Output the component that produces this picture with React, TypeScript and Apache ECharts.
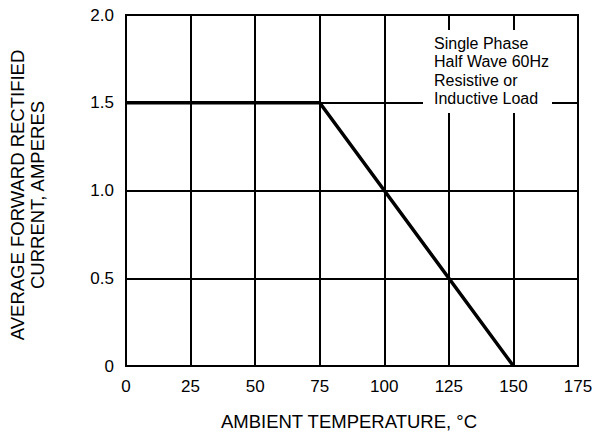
import React, { useEffect, useRef } from "react";
import * as echarts from "echarts";

const xTicks = [0, 25, 50, 75, 100, 125, 150, 175];
const yTicks = [0, 0.5, 1.0, 1.5, 2.0];
const deratingCurve: [number, number][] = [
  [0, 1.5],
  [75, 1.5],
  [150, 0],
];
const noteLines = ["Single Phase", "Half Wave 60Hz", "Resistive or", "Inductive Load"];
const xTitle = "AMBIENT TEMPERATURE, \u00B0C";
const yTitleLines = ["AVERAGE FORWARD RECTIFIED", "CURRENT, AMPERES"];

const FONT = "Liberation Sans, Arial, Helvetica, sans-serif";

export default function App() {
  const ref = useRef<HTMLDivElement>(null);
  useEffect(() => {
    document.body.style.margin = "0";
    if (!ref.current) return;
    const chart = echarts.init(ref.current, undefined, { renderer: "svg" });
    chart.setOption({
      animation: false,
      backgroundColor: "#ffffff",
      grid: {
        left: 126,
        right: 18,
        top: 15,
        bottom: 69,
        show: true,
        borderColor: "#000",
        borderWidth: 2,
        backgroundColor: "transparent",
      },
      xAxis: {
        type: "value",
        min: xTicks[0],
        max: xTicks[xTicks.length - 1],
        interval: 25,
        axisLine: { show: false },
        axisTick: { show: false },
        axisLabel: { color: "#000", fontSize: 17, fontFamily: FONT, margin: 12 },
        splitLine: { show: true, lineStyle: { color: "#000", width: 2 } },
      },
      yAxis: {
        type: "value",
        min: yTicks[0],
        max: yTicks[yTicks.length - 1],
        interval: 0.5,
        axisLine: { show: false },
        axisTick: { show: false },
        axisLabel: {
          color: "#000",
          fontSize: 17,
          fontFamily: FONT,
          margin: 12,
          formatter: (v: number) => (v === 0 ? "0" : v.toFixed(1)),
        },
        splitLine: { show: true, lineStyle: { color: "#000", width: 2 } },
      },
      series: [
        {
          type: "line",
          data: deratingCurve,
          showSymbol: false,
          lineStyle: { color: "#000", width: 3.5 },
          z: 5,
        },
      ],
      graphic: [
        {
          type: "rect",
          shape: { x: 423, y: 30, width: 129, height: 83 },
          style: { fill: "#fff" },
          z: 100,
        },
        {
          type: "text",
          x: 434,
          y: 34,
          z: 101,
          style: {
            text: noteLines.join("\n"),
            fill: "#000",
            font: `16px ${FONT}`,
            lineHeight: 18.5,
            align: "left",
            verticalAlign: "top",
          },
        },
        {
          type: "text",
          x: 349,
          y: 421,
          z: 101,
          style: {
            text: xTitle,
            fill: "#000",
            font: `18.5px ${FONT}`,
            align: "center",
            verticalAlign: "middle",
          },
        },
        {
          type: "text",
          x: 27,
          y: 195,
          rotation: Math.PI / 2,
          z: 101,
          style: {
            text: yTitleLines.join("\n"),
            fill: "#000",
            font: `18.5px ${FONT}`,
            lineHeight: 20,
            align: "center",
            verticalAlign: "middle",
          },
        },
      ],
    });
    return () => chart.dispose();
  }, []);
  return <div ref={ref} style={{ width: 596, height: 435 }} />;
}
